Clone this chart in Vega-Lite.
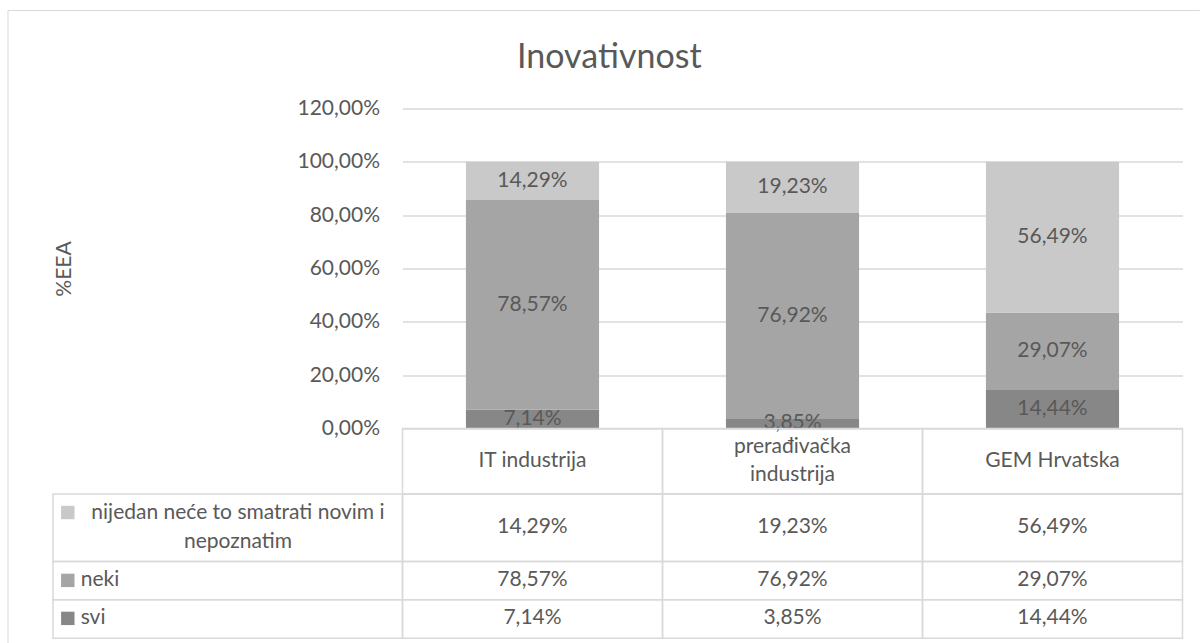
{
  "$schema": "https://vega.github.io/schema/vega-lite/v6.json",
  "background": "white",
  "padding": {"left": 7.5, "top": 9.5, "right": 0, "bottom": 0},
  "title": {"text": "Inovativnost", "font": "Lato", "fontSize": 34, "fontWeight": "normal", "color": "#595959", "anchor": "middle", "offset": -64.5, "dx": 5.5},
  "config": {
    "locale": {"number": {"decimal": ",", "thousands": ".", "grouping": [3], "currency": ["", " €"]}},
    "font": "Lato",
    "view": {"stroke": null},
    "text": {"font": "Lato", "fontSize": 21, "color": "#595959"}
  },
  "datasets": {
    "values": [
      {"cat": "IT industrija", "s": "svi", "i": 1, "v": 0.0714},
      {"cat": "IT industrija", "s": "neki", "i": 2, "v": 0.7857},
      {"cat": "IT industrija", "s": "nijedan neće to smatrati novim i nepoznatim", "i": 3, "v": 0.1429},
      {"cat": "prerađivačka industrija", "s": "svi", "i": 1, "v": 0.0385},
      {"cat": "prerađivačka industrija", "s": "neki", "i": 2, "v": 0.7692},
      {"cat": "prerađivačka industrija", "s": "nijedan neće to smatrati novim i nepoznatim", "i": 3, "v": 0.1923},
      {"cat": "GEM Hrvatska", "s": "svi", "i": 1, "v": 0.1444},
      {"cat": "GEM Hrvatska", "s": "neki", "i": 2, "v": 0.2907},
      {"cat": "GEM Hrvatska", "s": "nijedan neće to smatrati novim i nepoznatim", "i": 3, "v": 0.5649}
    ],
    "tcols": [
      {"cat": "IT industrija", "label": "IT industrija", "c0": 0, "c1": 1, "cm": 0.5},
      {"cat": "prerađivačka industrija", "label": "prerađivačka\nindustrija", "c0": 1, "c1": 2, "cm": 1.5},
      {"cat": "GEM Hrvatska", "label": "GEM Hrvatska", "c0": 2, "c1": 3, "cm": 2.5}
    ],
    "trows": [
      {"s": "nijedan neće to smatrati novim i nepoznatim", "label": "nijedan neće to smatrati novim i\nnepoznatim", "r0": 1.706, "r1": 3.464, "rm": 2.578, "rs": 2.188},
      {"s": "neki", "label": "neki", "r0": 3.464, "r1": 4.461, "rm": 3.955, "rs": 3.955},
      {"s": "svi", "label": "svi", "r0": 4.461, "r1": 5.461, "rm": 4.945, "rs": 4.945}
    ],
    "frame": [
      {"part": "chart area border"}
    ]
  },
  "spacing": 0,
  "bounds": "flush",
  "vconcat": [
    {
      "width": 780,
      "height": 320,
      "data": {"name": "values"},
      "encoding": {
        "x": {"field": "cat", "type": "nominal", "sort": ["IT industrija", "prerađivačka industrija", "GEM Hrvatska"], "axis": null, "scale": {"paddingInner": 0.488, "paddingOuter": 0.244}},
        "order": {"field": "i", "type": "quantitative"}
      },
      "layer": [
        {
          "mark": {"type": "bar"},
          "encoding": {
            "y": {"field": "v", "type": "quantitative", "stack": "zero", "scale": {"domain": [0, 1.2], "nice": false},
              "axis": {"values": [0, 0.2, 0.4, 0.6, 0.8, 1, 1.2], "format": ".2%", "title": "%EEA", "titleFont": "Lato", "titleFontSize": 21, "titleFontWeight": "normal", "titleColor": "#595959", "titlePadding": 223, "labelFont": "Lato", "labelFontSize": 21, "labelColor": "#595959", "labelPadding": 23, "ticks": false, "domain": false, "grid": true, "gridColor": "#D9D9D9", "gridWidth": 1.5}},
            "color": {"field": "s", "type": "nominal", "legend": null, "scale": {"domain": ["nijedan neće to smatrati novim i nepoznatim", "neki", "svi"], "range": ["#C9C9C9", "#A5A5A5", "#878787"]}}
          }
        },
        {
          "mark": {"type": "text", "baseline": "middle", "align": "center"},
          "encoding": {
            "y": {"field": "v", "type": "quantitative", "stack": "zero", "bandPosition": 0.5},
            "detail": {"field": "s", "type": "nominal"},
            "text": {"field": "v", "type": "quantitative", "format": ".2%"}
          }
        }
      ]
    },
    {
      "width": 780,
      "height": 209.7,
      "encoding": {
        "x": {"type": "quantitative", "scale": {"domain": [0, 3], "nice": false, "zero": false}, "axis": null},
        "y": {"type": "quantitative", "scale": {"domain": [0, 5.461], "nice": false, "zero": false, "reverse": true}, "axis": null}
      },
      "layer": [
        {
          "data": {"name": "frame"},
          "layer": [
            {
              "mark": {"type": "rule", "stroke": "#D9D9D9", "strokeWidth": 1, "clip": false},
              "encoding": {
                "x": {"datum": -1.5173, "type": "quantitative"},
                "y": {"datum": -10.885, "type": "quantitative"},
                "y2": {"datum": 5.599}
              }
            },
            {
              "mark": {"type": "rule", "stroke": "#D9D9D9", "strokeWidth": 1, "clip": false},
              "encoding": {
                "x": {"datum": -1.5173, "type": "quantitative"},
                "x2": {"datum": 3.066},
                "y": {"datum": -10.885, "type": "quantitative"}
              }
            }
          ]
        },
        {
          "data": {"name": "values"},
          "transform": [
            {"lookup": "cat", "from": {"data": {"name": "tcols"}, "key": "cat", "fields": ["c0", "c1", "cm"]}},
            {"lookup": "s", "from": {"data": {"name": "trows"}, "key": "s", "fields": ["r0", "r1", "rm"]}}
          ],
          "layer": [
            {
              "mark": {"type": "rect", "filled": false, "stroke": "#D9D9D9", "strokeWidth": 1.5, "clip": false},
              "encoding": {
                "x": {"field": "c0", "type": "quantitative"},
                "x2": {"field": "c1"},
                "y": {"field": "r0", "type": "quantitative"},
                "y2": {"field": "r1"}
              }
            },
            {
              "mark": {"type": "text", "baseline": "middle", "align": "center", "clip": false},
              "encoding": {
                "x": {"field": "cm", "type": "quantitative"},
                "y": {"field": "rm", "type": "quantitative"},
                "text": {"field": "v", "type": "quantitative", "format": ".2%"}
              }
            }
          ]
        },
        {
          "data": {"name": "trows"},
          "layer": [
            {
              "mark": {"type": "rect", "filled": false, "stroke": "#D9D9D9", "strokeWidth": 1.5, "clip": false},
              "encoding": {
                "x": {"datum": -1.3443, "type": "quantitative"},
                "x2": {"datum": 0},
                "y": {"field": "r0", "type": "quantitative"},
                "y2": {"field": "r1"}
              }
            },
            {
              "mark": {"type": "square", "size": 180, "opacity": 1, "filled": true, "clip": false},
              "encoding": {
                "x": {"datum": -1.2873, "type": "quantitative"},
                "y": {"field": "rs", "type": "quantitative"},
                "color": {"field": "s", "type": "nominal", "legend": null, "scale": {"domain": ["nijedan neće to smatrati novim i nepoznatim", "neki", "svi"], "range": ["#C9C9C9", "#A5A5A5", "#878787"]}}
              }
            },
            {
              "transform": [{"filter": "datum.s !== 'nijedan neće to smatrati novim i nepoznatim'"}],
              "mark": {"type": "text", "baseline": "middle", "align": "left", "clip": false},
              "encoding": {
                "x": {"datum": -1.2378, "type": "quantitative"},
                "y": {"field": "rm", "type": "quantitative"},
                "text": {"field": "label"}
              }
            },
            {
              "transform": [{"filter": "datum.s === 'nijedan neće to smatrati novim i nepoznatim'"}],
              "mark": {"type": "text", "baseline": "middle", "align": "center", "lineBreak": "\n", "lineHeight": 29.7, "dy": -14.85, "clip": false},
              "encoding": {
                "x": {"datum": -0.6329, "type": "quantitative"},
                "y": {"field": "rm", "type": "quantitative"},
                "text": {"field": "label"}
              }
            }
          ]
        },
        {
          "data": {"name": "tcols"},
          "layer": [
            {
              "mark": {"type": "rect", "filled": false, "stroke": "#D9D9D9", "strokeWidth": 1.5, "clip": false},
              "encoding": {
                "x": {"field": "c0", "type": "quantitative"},
                "x2": {"field": "c1"},
                "y": {"datum": 0, "type": "quantitative"},
                "y2": {"datum": 1.706}
              }
            },
            {
              "transform": [{"filter": "datum.cat !== 'prerađivačka industrija'"}],
              "mark": {"type": "text", "baseline": "middle", "align": "center", "clip": false},
              "encoding": {
                "x": {"field": "cm", "type": "quantitative"},
                "y": {"datum": 0.853, "type": "quantitative"},
                "text": {"field": "label"}
              }
            },
            {
              "transform": [{"filter": "datum.cat === 'prerađivačka industrija'"}],
              "mark": {"type": "text", "baseline": "middle", "align": "center", "lineBreak": "\n", "lineHeight": 28.3, "dy": -14.15, "clip": false},
              "encoding": {
                "x": {"field": "cm", "type": "quantitative"},
                "y": {"datum": 0.853, "type": "quantitative"},
                "text": {"field": "label"}
              }
            }
          ]
        }
      ]
    }
  ]
}
